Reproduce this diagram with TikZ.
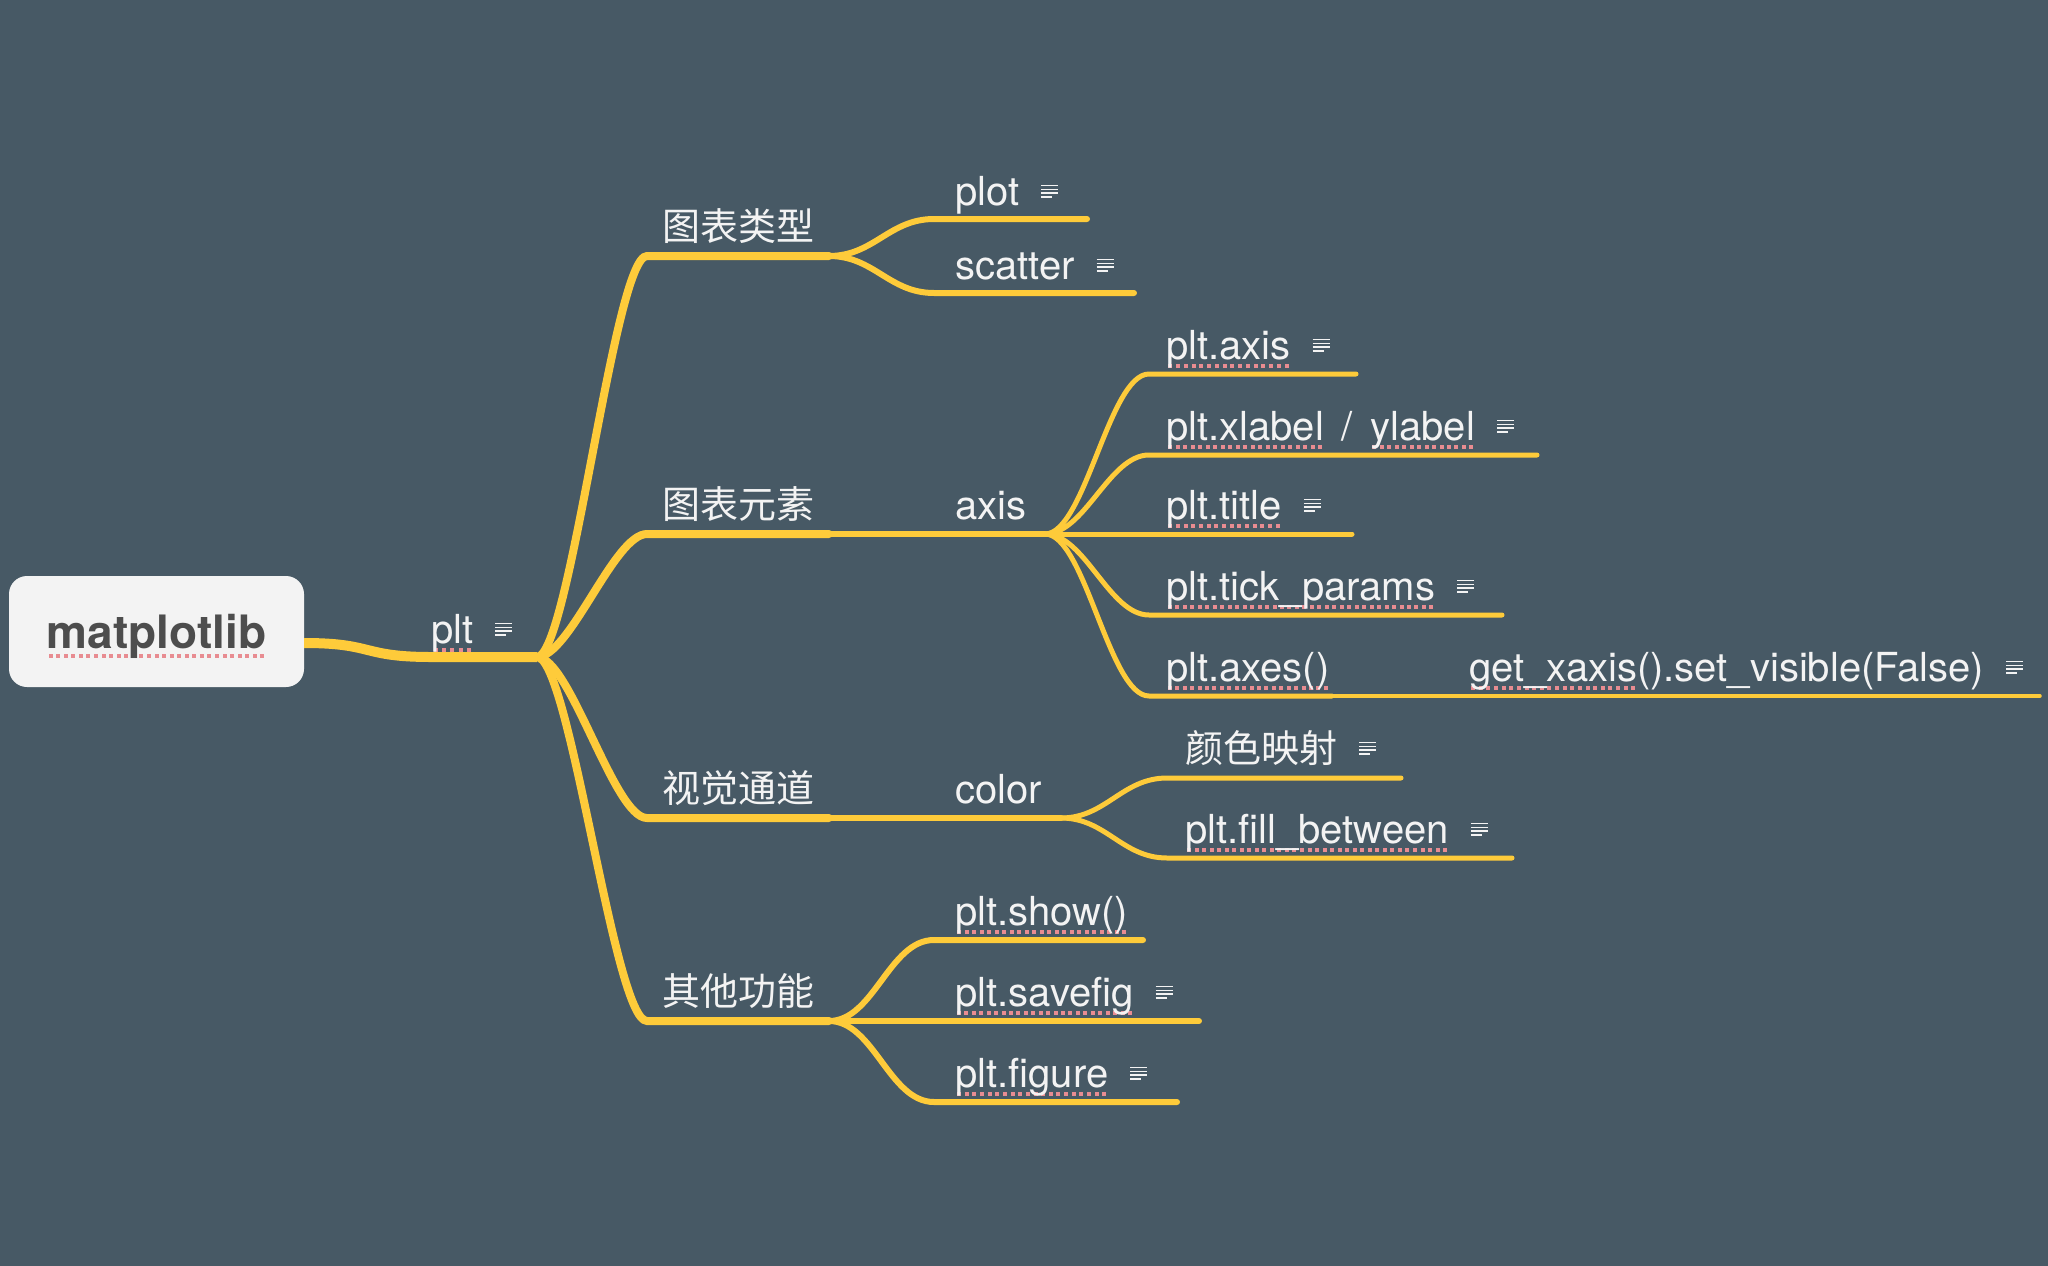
\documentclass[tikz,border=0pt]{standalone}
\usepackage{fontspec}
\setmainfont{TeX Gyre Heros}
\newfontfamily\cjk{Noto Sans CJK SC}
\usetikzlibrary{positioning}

\definecolor{bgcol}{RGB}{71,89,101}
\definecolor{branch}{RGB}{254,203,58}
\definecolor{txtcol}{RGB}{243,243,243}
\definecolor{roottxt}{RGB}{77,77,77}
\definecolor{squig}{RGB}{232,140,145}

% kleine Notiz-Markierung hinter dem Text
\newcommand\noteicon{\hspace{22pt}\raisebox{7pt}{\color{txtcol}\vbox{%
  \hrule width 17pt height 1.7pt\vskip 2.2pt
  \hrule width 17pt height 1.7pt\vskip 2.2pt
  \hrule width 17pt height 1.7pt\vskip 2.2pt
  \hrule width 11pt height 1.7pt}}}
% rote Rechtschreib-Markierung unter einem Wort
\newsavebox\sqbox
\newcommand\sq[1]{\sbox\sqbox{#1}\rlap{\raisebox{-9pt}{\color{squig}\hbox to\wd\sqbox{%
  \xleaders\hbox to 7.4pt{\hss\rule{4pt}{4pt}\hss}\hfill}}}\usebox\sqbox}

\tikzset{
  lbl/.style={anchor=base west, inner sep=0pt, text=txtcol,
    font=\fontsize{40}{48}\selectfont},
  cjklbl/.style={lbl, font=\cjk\fontsize{38}{46}\selectfont},
  rootbox/.style={fill=txtcol, rounded corners=18pt, minimum width=295pt,
    minimum height=111pt, text=roottxt, text depth=0pt,
    font=\bfseries\fontsize{46}{55}\selectfont},
  l0/.style={draw=branch, line width=10pt, line cap=butt},
  l1/.style={draw=branch, line width=8pt, line cap=round},
  l2/.style={draw=branch, line width=6pt, line cap=round},
  l3/.style={draw=branch, line width=5pt, line cap=round},
  l4/.style={draw=branch, line width=3.5pt, line cap=round}
}

\begin{document}
\begin{tikzpicture}[x=1pt, y=-1pt]
  % Hintergrund
  \fill[bgcol] (0,0) rectangle (2048,1266);
  \useasboundingbox (0,0) rectangle (2048,1266);

  % Wurzel
  \node[rootbox] (root) at (156.5,631.5) {\sq{matplotlib}};
  \coordinate (plt-s) at (431,657);
  \coordinate (hub) at (537,657);
  \draw[l0] ([yshift=-11.5pt]root.east) .. controls +(70,0) and +(-70,0) .. (plt-s) -- (hub);
  \node[lbl] (plt) at (431,643) {\sq{plt}\noteicon};

  % Ebene 1
  \coordinate (t1-s) at (647,256);  \coordinate (t1-e) at (829,256);
  \coordinate (t2-s) at (647,534);  \coordinate (t2-e) at (829,534);
  \coordinate (t3-s) at (647,818);  \coordinate (t3-e) at (829,818);
  \coordinate (t4-s) at (647,1021); \coordinate (t4-e) at (829,1021);
  \foreach \t in {t1,t2,t3,t4}
    \draw[l1] (hub) .. controls +(33,0) and +(-33,0) .. (\t-s) -- (\t-e);
  \node[cjklbl] (t1) at (662,240) {图表类型};
  \node[cjklbl] (t2) at (662,518) {图表元素};
  \node[cjklbl] (t3) at (662,802) {视觉通道};
  \node[cjklbl] (t4) at (662,1005) {其他功能};

  % 图表类型
  \coordinate (plot-s) at (934,219);    \coordinate (plot-e) at (1087,219);
  \coordinate (scatter-s) at (934,293); \coordinate (scatter-e) at (1134,293);
  \draw[l2] (t1-e) .. controls +(45,0) and +(-45,0) .. (plot-s) -- (plot-e);
  \draw[l2] (t1-e) .. controls +(45,0) and +(-45,0) .. (scatter-s) -- (scatter-e);
  \node[lbl] (plot) at (955,205) {plot\noteicon};
  \node[lbl] (scatter) at (955,279) {scatter\noteicon};

  % 图表元素 -> axis
  \coordinate (axis-e) at (1045,534);
  \draw[l2] (t2-e) -- (axis-e);
  \node[lbl] (axis) at (955,519) {axis};
  \coordinate (pax-s) at (1149,374);   \coordinate (pax-e) at (1356,374);
  \coordinate (xlab-s) at (1149,455);  \coordinate (xlab-e) at (1537,455);
  \coordinate (title-s) at (1149,534); \coordinate (title-e) at (1352,534);
  \coordinate (tick-s) at (1149,615);  \coordinate (tick-e) at (1502,615);
  \coordinate (axes-s) at (1149,696);  \coordinate (axes-e) at (1332,696);
  \coordinate (getx-e) at (2040,696);
  \foreach \a in {pax,xlab,title,tick,axes}
    \draw[l3] (axis-e) .. controls +(40,0) and +(-40,0) .. (\a-s) -- (\a-e);
  \draw[l4] (axes-e) -- (getx-e);
  \node[lbl] (pax) at (1166,359) {\sq{plt.axis}\noteicon};
  \node[lbl] (xlab) at (1166,440) {\sq{plt.xlabel} \,/\, \sq{ylabel}\noteicon};
  \node[lbl] (title) at (1166,519) {\sq{plt.title}\noteicon};
  \node[lbl] (tick) at (1166,600) {\sq{plt.tick\_params}\noteicon};
  \node[lbl] (axes) at (1166,681) {\sq{plt.axes()}};
  \node[lbl] (getx) at (1469,681) {\sq{get\_xaxis}().set\_visible(False)\noteicon};

  % 视觉通道 -> color
  \coordinate (color-e) at (1061,818);
  \draw[l2] (t3-e) -- (color-e);
  \node[lbl] (color) at (955,803) {color};
  \coordinate (cmap-s) at (1167,778); \coordinate (cmap-e) at (1401,778);
  \coordinate (fill-s) at (1167,858); \coordinate (fill-e) at (1512,858);
  \draw[l3] (color-e) .. controls +(45,0) and +(-45,0) .. (cmap-s) -- (cmap-e);
  \draw[l3] (color-e) .. controls +(45,0) and +(-45,0) .. (fill-s) -- (fill-e);
  \node[cjklbl] (cmap) at (1185,762) {颜色映射\noteicon};
  \node[lbl] (fill) at (1185,843) {\sq{plt.fill\_between}\noteicon};

  % 其他功能
  \coordinate (show-s) at (934,940);    \coordinate (show-e) at (1143,940);
  \coordinate (figure-s) at (934,1102); \coordinate (figure-e) at (1177,1102);
  \coordinate (save-e) at (1199,1021);
  \draw[l2] (t4-e) .. controls +(45,0) and +(-45,0) .. (show-s) -- (show-e);
  \draw[l2] (t4-e) -- (save-e);
  \draw[l2] (t4-e) .. controls +(45,0) and +(-45,0) .. (figure-s) -- (figure-e);
  \node[lbl] (show) at (955,925) {\sq{plt.show()}};
  \node[lbl] (save) at (955,1006) {\sq{plt.savefig}\noteicon};
  \node[lbl] (figure) at (955,1087) {\sq{plt.figure}\noteicon};
\end{tikzpicture}
\end{document}
